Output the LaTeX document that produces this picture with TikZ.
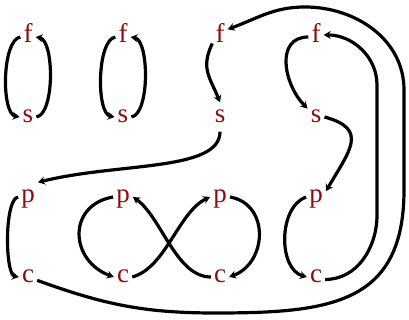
\documentclass[tikz,border=0pt]{standalone}
\usepackage{fontspec}
\setmainfont{Liberation Serif}
\usetikzlibrary{arrows.meta}
\definecolor{labred}{RGB}{140,12,12}
\tikzset{
  x=1pt,y=1pt,
  lab/.style={text=labred, font=\fontsize{27}{30}\selectfont, anchor=base,
    text height=18pt, text depth=6pt, inner ysep=2.5pt, inner xsep=3pt},
  arr/.style={line width=3.2pt, -{Stealth[length=7pt,width=8pt,inset=2.5pt]}},
  plain/.style={line width=3.2pt}
}
\begin{document}
\begin{tikzpicture}
\useasboundingbox (0,0) rectangle (409,320);
% row f (baseline 277), s (197), p (117), c (37)
\node[lab] (f1) at (28,277) {f};
\node[lab] (f2) at (123,277) {f};
\node[lab] (f3) at (220,277) {f};
\node[lab] (f4) at (316,277) {f};
\node[lab] (s1) at (28,197) {s};
\node[lab] (s2) at (123,197) {s};
\node[lab] (s3) at (220,197) {s};
\node[lab] (s4) at (316,197) {s};
\node[lab] (p1) at (28,117) {p};
\node[lab] (p2) at (123,117) {p};
\node[lab] (p3) at (220,117) {p};
\node[lab] (p4) at (316,117) {p};
\node[lab] (c1) at (28,37) {c};
\node[lab] (c2) at (123,37) {c};
\node[lab] (c3) at (220,37) {c};
\node[lab] (c4) at (316,37) {c};
\coordinate (bl) at (215,7);
\coordinate (rt) at (404,130);
\coordinate (rt2) at (404,230);
\coordinate (tp) at (305,313);
\coordinate (v1) at (377,105);
\coordinate (v2) at (377,235);
% column 1 and 2 top
\draw[arr] (f1.west) to[out=190,in=170,looseness=0.6] (s1.west);
\draw[arr] (s1.east) to[out=10,in=-10,looseness=0.6] (f1.east);
\draw[arr] (f2.west) to[out=190,in=170,looseness=0.6] (s2.west);
\draw[arr] (s2.east) to[out=10,in=-10,looseness=0.6] (f2.east);
% column 3
\draw[arr] (f3.-140) .. controls +(-12,-25) and +(-10,25) .. (s3.north);
\draw[arr] (s3.south) .. controls +(0,-40) and +(80,20) .. (p1.north east);
\draw[arr] (c1.-20) to[out=-20,in=180] (bl) to[out=0,in=-90,looseness=1.3] (rt)
  -- (rt2) to[out=90,in=0] (tp) to[out=180,in=20] (f3.45);
% column 4
\draw[arr] (f4.west) to[out=180,in=135,looseness=1.2] (s4.135);
\draw[arr] (s4.east) to[out=-15,in=60,looseness=1.6] (p4.30);
\draw[arr] (p4.west) to[out=200,in=165,looseness=0.95] (c4.west);
\draw[arr] (c4.-15) to[out=0,in=-90] (v1) -- (v2) to[out=90,in=0] (f4.15);
% lower left
\draw[arr] (p1.west) to[out=190,in=170,looseness=0.45] (c1.west);
\draw[arr] (p2.west) to[out=190,in=160,looseness=1.5] (c2.west);
\draw[arr] (c2.east) to[out=15,in=205,looseness=0.8] (p3.west);
\draw[arr] (p3.east) to[out=-10,in=20,looseness=1.3] (c3.east);
\draw[arr] (c3.west) to[out=180,in=-35,looseness=0.8] (p2.east);
\end{tikzpicture}
\end{document}
